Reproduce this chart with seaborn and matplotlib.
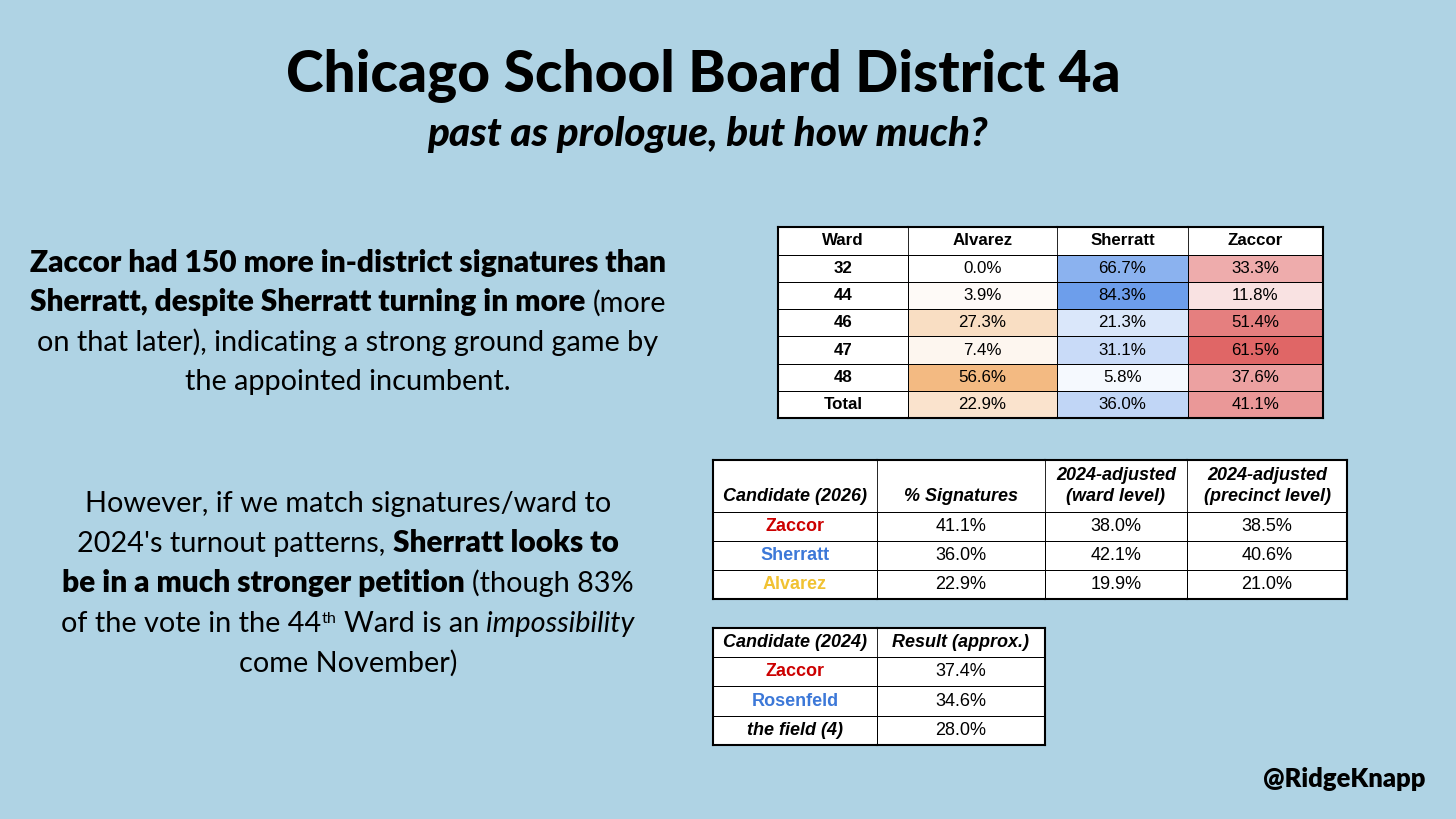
import numpy as np
import pandas as pd
import matplotlib
matplotlib.use("Agg")
import matplotlib.pyplot as plt
import seaborn as sns
from matplotlib.colors import LinearSegmentedColormap, ListedColormap

# ---------------- data ----------------
wards = ["32", "44", "46", "47", "48", "Total"]
alvarez = [0.0, 3.9, 27.3, 7.4, 56.6, 22.9]
sherratt = [66.7, 84.3, 21.3, 31.1, 5.8, 36.0]
zaccor = [33.3, 11.8, 51.4, 61.5, 37.6, 41.1]

cand_2026 = ["Zaccor", "Sherratt", "Alvarez"]
pct_signatures = [41.1, 36.0, 22.9]
adj_ward = [38.0, 42.1, 19.9]
adj_precinct = [38.5, 40.6, 21.0]

cand_2024 = ["Zaccor", "Rosenfeld", "the field (4)"]
result_2024 = [37.4, 34.6, 28.0]

name_colors = {"Zaccor": "#CC0000", "Sherratt": "#3C78D8", "Alvarez": "#F1C232",
               "Rosenfeld": "#3C78D8", "the field (4)": "black"}

# ---------------- setup ----------------
W, H = 1456, 819
BG = "#AFD3E4"
sns.set_theme(style="white")
plt.rcParams["font.family"] = ["Lato", "DejaVu Sans"]
plt.rcParams["text.color"] = "black"

fig = plt.figure(figsize=(W / 100, H / 100), dpi=100, facecolor=BG)
ov = fig.add_axes([0, 0, 1, 1])
ov.set_xlim(0, W)
ov.set_ylim(H, 0)
ov.axis("off")
renderer = fig.canvas.get_renderer()

LIGHT = dict(family="Lato", weight="normal", color="black")
BOLD = dict(family="Lato", weight="heavy", color="black")
ITAL = dict(family="Lato", weight="normal", style="italic", color="black")
RR = 0.97  # relative size of regular text vs bold text


def textw(s, props, size):
    t = ov.text(0, 0, s, fontsize=size, **props)
    w = t.get_window_extent(renderer).width
    t.remove()
    return w


def adv(s, props, size):
    return textw(s + "|", props, size) - textw("|", props, size)


def seg_width(seg, size):
    s, props, dy, rel, gap = seg
    w = adv(s, props, size * rel)
    if gap:
        w += textw("a a", LIGHT, size * RR) - textw("aa", LIGHT, size * RR)
    return w


def line_width(segs, size):
    return sum(seg_width(sg, size) for sg in segs)


def draw_line(segs, cx, y, size, align="center"):
    total = line_width(segs, size)
    x = cx - total / 2 if align == "center" else cx - total
    for sg in segs:
        s, props, dy, rel, gap = sg
        ov.text(x, y - dy * size, s, fontsize=size * rel, ha="left", va="baseline", **props)
        x += seg_width(sg, size)


def S(s, props, dy=0.0, rel=1.0, gap=False):
    return (s, props, dy, rel, gap)


def R(s, props=LIGHT):
    return S(s, props, rel=RR)


def fit(segs, target):
    return 20 * target / line_width(segs, 20)


# ---------------- title ----------------
TITLE = dict(family="Lato", weight="black", color="black")
SUB = dict(family="Lato", weight="black", style="italic", color="black")
t_segs = [S("Chicago School Board District 4a", TITLE)]
draw_line(t_segs, 703.5, 92, fit(t_segs, 837))
s_segs = [S("past as prologue, but how much?", SUB)]
draw_line(s_segs, 707.5, 146, fit(s_segs, 559))

# ---------------- body text ----------------
block1 = [
    [S("Zaccor had 150 more in-district signatures than", BOLD)],
    [S("Sherratt, despite Sherratt turning in more ", BOLD), R("(more")],
    [R("on that later), indicating a strong ground game by")],
    [R("the appointed incumbent.")],
]
sz = fit(block1[0], 636)
for i, ln in enumerate(block1):
    draw_line(ln, 348, 272 + 39.3 * i, sz)

block2 = [
    [R("However, if we match signatures/ward to")],
    [R("2024's turnout patterns, "), S("Sherratt looks to", BOLD)],
    [S("be in a much stronger petition ", BOLD), R("(though 83%")],
    [R("of the vote in the 44"), S("th", LIGHT, dy=0.42, rel=0.55, gap=True),
     R("Ward is an "), R("impossibility", ITAL)],
    [R("come November)")],
]
for i, ln in enumerate(block2):
    draw_line(ln, 348, 512 + 40 * i, sz)

h_segs = [S("@RidgeKnapp", BOLD)]
draw_line(h_segs, 1425, 787, fit(h_segs, 163), align="right")

# ---------------- tables ----------------
TF = "Liberation Sans"
OUTER, INNER = 1.5, 0.6


def table_col(xa, xb, y0, yh, y1, header, labels, values=None, cmap=None, vmax=None,
              head_kw=None, cell_kw=None, cell_colors=None, cell_styles=None,
              first=False, last=False):
    ax = fig.add_axes([xa / W, 1 - y1 / H, (xb - xa) / W, (y1 - y0) / H])
    n = len(labels)
    if values is None:
        vals = np.zeros(n)
        cm = ListedColormap(["white"])
        vmax = 1
    else:
        vals = np.asarray(values, dtype=float)
        cm = cmap
    df = pd.DataFrame({"v": vals})
    sns.heatmap(df, ax=ax, cmap=cm, vmin=0, vmax=vmax, cbar=False,
                annot=np.array(labels, dtype=object).reshape(-1, 1), fmt="",
                annot_kws=cell_kw, linewidths=INNER, linecolor="black",
                xticklabels=False, yticklabels=False)
    ax.set_xlabel("")
    ax.set_ylabel("")
    if cell_colors is not None:
        for t, c in zip(ax.texts[:n], cell_colors):
            t.set_color(c)
    if cell_styles is not None:
        for t, st in zip(ax.texts[:n], cell_styles):
            t.set_style(st)
    k = (yh - y0) / ((y1 - yh) / n)
    ax.set_ylim(n, -k)
    ax.text(0.5, -k / 2, header, ha="center", va="center", **head_kw)
    ax.set_facecolor("white")
    for side, sp in ax.spines.items():
        sp.set_visible(True)
        sp.set_color("black")
        lw = INNER
        if side in ("top", "bottom"):
            lw = OUTER
        if side == "left" and first:
            lw = OUTER
        if side == "right" and last:
            lw = OUTER
        sp.set_linewidth(lw)
    return ax


# Table 1: signatures by ward (heatmap)
x1 = [778, 908, 1057, 1188, 1323]
F1 = 12.2
hk1 = dict(family=TF, weight="bold", fontsize=F1, color="black")
ck1 = dict(family=TF, fontsize=F1, color="black")
ckb1 = dict(family=TF, fontsize=F1, color="black", weight="bold")
fmt = lambda arr: [f"{v:.1f}%" for v in arr]
table_col(x1[0], x1[1], 227, 255, 418, "Ward", wards, head_kw=hk1, cell_kw=ckb1, first=True)
names1 = ["Alvarez", "Sherratt", "Zaccor"]
for i, ((xa, xb), name, vals, col) in enumerate(zip(zip(x1[1:-1], x1[2:]), names1,
                                     [alvarez, sherratt, zaccor],
                                     ["#F3BA82", "#6D9EEB", "#E06666"])):
    cm = LinearSegmentedColormap.from_list(name, ["#FFFFFF", col])
    table_col(xa, xb, 227, 255, 418, name, fmt(vals), values=vals, cmap=cm,
              vmax=max(vals), head_kw=hk1, cell_kw=ck1, last=(i == len(names1) - 1))

# Table 2: 2026 candidates
x2 = [713, 877, 1045, 1187, 1347]
F2 = 13
hk2 = dict(family=TF, weight="bold", style="italic", fontsize=F2, color="black", linespacing=1.25)
ck2 = dict(family=TF, fontsize=F2, color="black")
cn2 = dict(family=TF, fontsize=F2, color="black", weight="bold")
white = ListedColormap(["white"])
table_col(x2[0], x2[1], 460, 512, 599, "\nCandidate (2026)", cand_2026, head_kw=hk2,
          cell_kw=cn2, cell_colors=[name_colors[c] for c in cand_2026], first=True)
heads2 = ["\n% Signatures", "2024-adjusted\n(ward level)", "2024-adjusted\n(precinct level)"]
for i, ((xa, xb), head, vals) in enumerate(zip(zip(x2[1:-1], x2[2:]), heads2,
                                [pct_signatures, adj_ward, adj_precinct])):
    table_col(xa, xb, 460, 512, 599, head, fmt(vals), values=vals, cmap=white, vmax=100,
              head_kw=hk2, cell_kw=ck2, last=(i == len(heads2) - 1))

# Table 3: 2024 result
x3 = [713, 877, 1045]
table_col(x3[0], x3[1], 628, 657, 745, "Candidate (2024)", cand_2024, head_kw=hk2,
          cell_kw=cn2, cell_colors=[name_colors[c] for c in cand_2024],
          cell_styles=["normal", "normal", "italic"], first=True)
table_col(x3[1], x3[2], 628, 657, 745, "Result (approx.)", fmt(result_2024),
          values=result_2024, cmap=white, vmax=100, head_kw=hk2, cell_kw=ck2, last=True)

fig.savefig("out.png", dpi=100, facecolor=BG)
